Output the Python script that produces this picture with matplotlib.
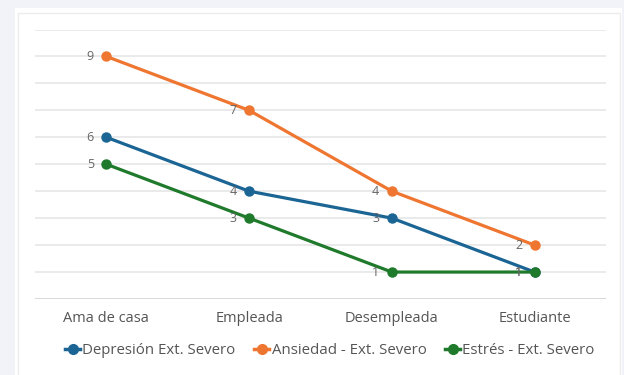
import matplotlib
matplotlib.use("Agg")
import matplotlib.pyplot as plt
from matplotlib.patches import Rectangle
from matplotlib.lines import Line2D

plt.rcParams['font.family'] = ['Open Sans', 'DejaVu Sans']

categories = ["Ama de casa", "Empleada", "Desempleada", "Estudiante"]
series_names = ["Depresión Ext. Severo", "Ansiedad - Ext. Severo", "Estrés - Ext. Severo"]
depresion = [6, 4, 3, 1]
ansiedad = [9, 7, 4, 2]
estres = [5, 3, 1, 1]
colors = ["#1b6594", "#ef7631", "#1f7a2b"]

W, H = 624, 375
fig = plt.figure(figsize=(W / 100, H / 100), dpi=100)
fig.patch.set_facecolor("#f1f3f8")

# white card behind the chart
fig.patches.append(Rectangle((15 / W, 0), (622 - 15) / W, (H - 8) / H,
                             transform=fig.transFigure, facecolor="white",
                             edgecolor="none", zorder=-2))
fig.patches.append(Rectangle((18 / W, -0.01), (620 - 18) / W, (H - 13) / H + 0.01,
                             transform=fig.transFigure, facecolor="none",
                             edgecolor="#ececec", linewidth=1.0, zorder=-1))

ax = fig.add_axes([35 / W, (H - 299) / H, (606 - 35) / W, (299 - 29.5) / H])
ax.set_zorder(1)
ax.set_facecolor("none")
ax.set_xlim(-0.5, len(categories) - 0.5)
ax.set_ylim(0, 10)

for v in range(1, 11):
    ax.axhline(v, color="#e8e8e8", linewidth=1.3, zorder=1)
ax.axhline(0, color="#d6d6d6", linewidth=1.3, zorder=1)

x = list(range(len(categories)))
all_series = [depresion, ansiedad, estres]
for vals, c in zip(all_series, colors):
    ax.plot(x, vals, color=c, linewidth=2.3, marker="o", markersize=6.5,
            zorder=3, solid_capstyle="round")
    for xi, v in zip(x, vals):
        ax.annotate(str(v), (xi, v), xytext=(-9, 0), textcoords="offset points",
                    ha="right", va="center", fontsize=9, color="#666666",
                    zorder=4)

ax.set_xticks(x)
ax.set_xticklabels(categories, fontsize=10.5, color="#555555")
ax.tick_params(axis="x", length=0, pad=9)
ax.set_yticks([])
for s in ax.spines.values():
    s.set_visible(False)

handles = [Line2D([0], [0], color=c, linewidth=2.5, marker="o", markersize=7)
           for c in colors]
fig.legend(handles, series_names, loc="center", ncol=3,
           bbox_to_anchor=(330 / W, 1 - 351 / H), frameon=False,
           fontsize=10.8, labelcolor="#555555", handlelength=1.0,
           handletextpad=0.15, columnspacing=1.25)

fig.savefig("out.png", dpi=100, facecolor=fig.get_facecolor())
